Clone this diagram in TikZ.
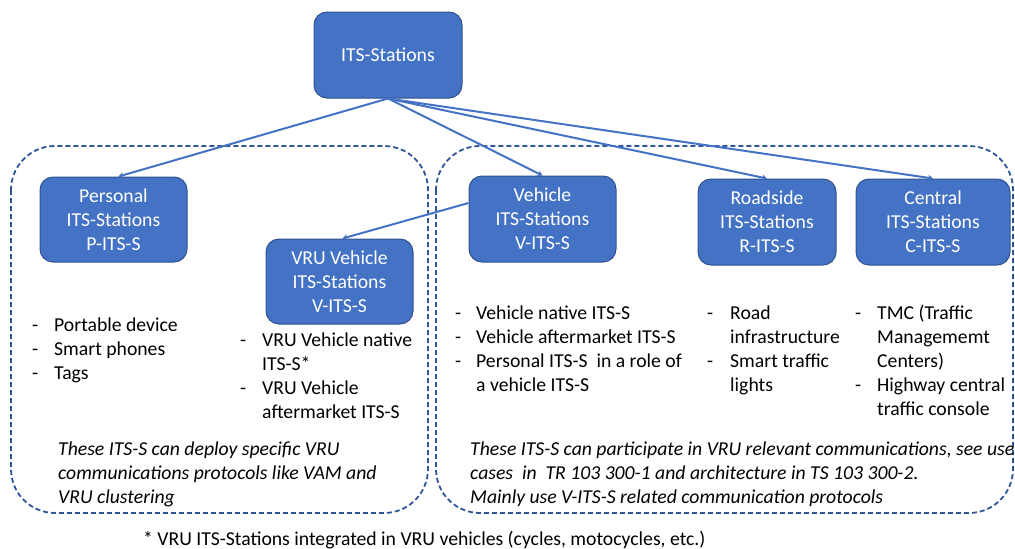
\documentclass[tikz,border=0pt]{standalone}
\usepackage{fontspec}
\setmainfont{Carlito}
\usetikzlibrary{arrows.meta}
\definecolor{boxfill}{HTML}{4472C4}
\definecolor{boxline}{HTML}{2F528F}
\definecolor{dashline}{HTML}{2F5597}
\newcommand{\txtsize}{\fontsize{19.7}{24}\selectfont}
\tikzset{
  station/.style={draw=boxline, line width=1pt, fill=boxfill, rounded corners=13pt,
    text=white, align=center, font=\txtsize, inner sep=0pt},
  group/.style={draw=dashline, line width=1.8pt, dash pattern=on 5pt off 3pt, rounded corners=44pt},
  link/.style={draw=boxfill, line width=2pt, -{Stealth[length=5pt,width=6pt]}},
  lst/.style={anchor=north west, inner sep=0pt, font=\txtsize},
}
\begin{document}
\begin{tikzpicture}[x=1pt,y=-1pt]
\useasboundingbox (0,0) rectangle (1015,549);
% dashed groups
\draw[group] (11,146) rectangle (428,513);
\draw[group] (436,146) rectangle (1013,513);
% stations
\node[station, minimum width=148pt, minimum height=86pt] (its) at (388,55) {ITS-Stations};
\node[station, minimum width=147pt, minimum height=85pt] (pers) at (113.5,219.5) {Personal\\ITS-Stations\\P-ITS-S};
\node[station, minimum width=147pt, minimum height=85pt] (vru) at (339.5,281.5) {VRU Vehicle\\ITS-Stations\\V-ITS-S};
\node[station, minimum width=147pt, minimum height=86pt] (veh) at (542.5,219) {Vehicle\\ITS-Stations\\V-ITS-S};
\node[station, minimum width=138pt, minimum height=86pt] (road) at (767,222) {Roadside\\ITS-Stations\\R-ITS-S};
\node[station, minimum width=154pt, minimum height=86pt] (cent) at (933,222) {Central\\ITS-Stations\\C-ITS-S};
% connectors
\draw[link] (its.south) -- ([xshift=5pt]pers.north);
\draw[link] (its.south) -- (veh.north);
\draw[link] (its.south) -- (road.north);
\draw[link] (its.south) -- (cent.north);
\draw[link] ([yshift=16pt]veh.west) -- ([xshift=3pt]vru.north);
% lists
\node[lst] (l1) at (32,314) {\begin{tabular}{@{}p{22pt}@{}l@{}}-&Portable device\\-&Smart phones\\-&Tags\end{tabular}};
\node[lst] (l2) at (240,329) {\begin{tabular}{@{}p{22pt}@{}l@{}}-&VRU Vehicle native\\&ITS-S*\\-&VRU Vehicle\\&aftermarket ITS-S\end{tabular}};
\node[lst] (l3) at (455,302) {\begin{tabular}{@{}p{21pt}@{}l@{}}-&Vehicle native ITS-S\\-&Vehicle aftermarket ITS-S\\-&Personal ITS-S\ \ in a role of\\&a vehicle ITS-S\end{tabular}};
\node[lst] (l4) at (707,302) {\begin{tabular}{@{}p{23pt}@{}l@{}}-&Road\\&infrastructure\\-&Smart traffic\\&lights\end{tabular}};
\node[lst] (l5) at (855,302) {\begin{tabular}{@{}p{22pt}@{}l@{}}-&TMC (Traffic\\&Managememt\\&Centers)\\-&Highway central\\&traffic console\end{tabular}};
% italic notes
\node[lst] (n1) at (58,438) {\itshape\begin{tabular}{@{}l@{}}These ITS-S can deploy specific VRU\\communications protocols like VAM and\\VRU clustering\end{tabular}};
\node[lst] (n2) at (470,438) {\itshape\begin{tabular}{@{}l@{}}These ITS-S can participate in VRU relevant communications, see use\\cases\ \ in\ \ TR 103 300-1 and architecture in TS 103 300-2.\\Mainly use V-ITS-S related communication protocols\end{tabular}};
% footnote
\node[anchor=base west, inner sep=0pt, font=\txtsize] (fn) at (143,545) {* VRU ITS-Stations integrated in VRU vehicles (cycles, motocycles, etc.)};
\end{tikzpicture}
\end{document}
